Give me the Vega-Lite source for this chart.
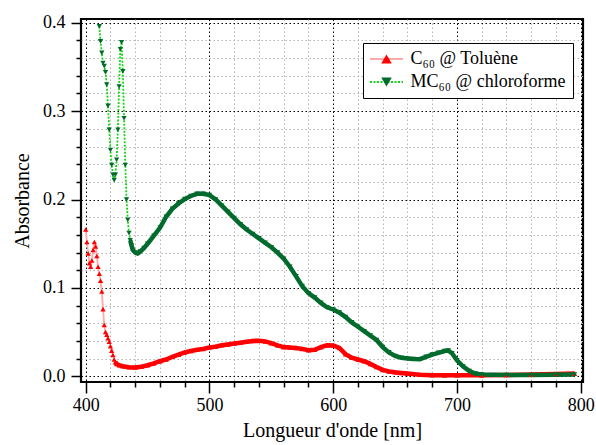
{
  "$schema": "https://vega.github.io/schema/vega-lite/v6.json",
  "width": 502,
  "height": 363,
  "autosize": {"type": "none"},
  "padding": {"left": 81, "top": 19, "right": 13, "bottom": 63},
  "background": "white",
  "config": {
    "view": {"stroke": "black", "strokeWidth": 2.2},
    "font": "Liberation Serif, Times New Roman, Times, serif",
    "axis": {"labelFont": "Liberation Serif, Times New Roman, Times, serif", "titleFont": "Liberation Serif, Times New Roman, Times, serif"},
    "legend": {"labelFont": "Liberation Serif, Times New Roman, Times, serif", "titleFont": "Liberation Serif, Times New Roman, Times, serif"}
  },
  "data": {"values": [
    {"s":"C60","x":400,"y":0.166},{"s":"C60","x":401,"y":0.152},{"s":"C60","x":402,"y":0.139},{"s":"C60","x":403,"y":0.128},
    {"s":"C60","x":404,"y":0.124},{"s":"C60","x":405,"y":0.131},{"s":"C60","x":406,"y":0.143},{"s":"C60","x":407,"y":0.152},
    {"s":"C60","x":408,"y":0.147},{"s":"C60","x":409,"y":0.136},{"s":"C60","x":410,"y":0.124},{"s":"C60","x":411,"y":0.116},
    {"s":"C60","x":412,"y":0.108},{"s":"C60","x":413,"y":0.096},{"s":"C60","x":414,"y":0.076},{"s":"C60","x":415,"y":0.058},
    {"s":"C60","x":416,"y":0.050},{"s":"C60","x":417,"y":0.047},{"s":"C60","x":418,"y":0.043},{"s":"C60","x":419,"y":0.039},
    {"s":"C60","x":420,"y":0.034},{"s":"C60","x":421,"y":0.029},{"s":"C60","x":422,"y":0.024},{"s":"C60","x":423,"y":0.019},
    {"s":"C60","x":424,"y":0.016},{"s":"C60","x":425,"y":0.014},{"s":"C60","x":427,"y":0.0125},{"s":"C60","x":430,"y":0.0113},
    {"s":"C60","x":435,"y":0.0103},{"s":"C60","x":440,"y":0.0100},{"s":"C60","x":445,"y":0.0108},{"s":"C60","x":450,"y":0.0125},
    {"s":"C60","x":455,"y":0.0145},{"s":"C60","x":460,"y":0.017},{"s":"C60","x":465,"y":0.019},{"s":"C60","x":470,"y":0.022},
    {"s":"C60","x":475,"y":0.0245},{"s":"C60","x":480,"y":0.027},{"s":"C60","x":485,"y":0.0285},{"s":"C60","x":490,"y":0.030},
    {"s":"C60","x":495,"y":0.031},{"s":"C60","x":500,"y":0.0325},{"s":"C60","x":505,"y":0.0335},{"s":"C60","x":510,"y":0.035},
    {"s":"C60","x":515,"y":0.036},{"s":"C60","x":520,"y":0.037},{"s":"C60","x":525,"y":0.038},{"s":"C60","x":530,"y":0.039},
    {"s":"C60","x":535,"y":0.040},{"s":"C60","x":540,"y":0.0402},{"s":"C60","x":545,"y":0.0395},{"s":"C60","x":550,"y":0.0375},
    {"s":"C60","x":555,"y":0.035},{"s":"C60","x":560,"y":0.033},{"s":"C60","x":565,"y":0.0325},{"s":"C60","x":570,"y":0.032},
    {"s":"C60","x":575,"y":0.031},{"s":"C60","x":580,"y":0.0295},{"s":"C60","x":585,"y":0.030},{"s":"C60","x":590,"y":0.033},
    {"s":"C60","x":595,"y":0.035},{"s":"C60","x":600,"y":0.0348},{"s":"C60","x":605,"y":0.032},{"s":"C60","x":610,"y":0.025},
    {"s":"C60","x":615,"y":0.021},{"s":"C60","x":620,"y":0.019},{"s":"C60","x":625,"y":0.017},{"s":"C60","x":630,"y":0.014},
    {"s":"C60","x":635,"y":0.0105},{"s":"C60","x":640,"y":0.0072},{"s":"C60","x":645,"y":0.0055},{"s":"C60","x":650,"y":0.0045},
    {"s":"C60","x":655,"y":0.0037},{"s":"C60","x":660,"y":0.003},{"s":"C60","x":670,"y":0.0018},{"s":"C60","x":680,"y":0.0012},
    {"s":"C60","x":690,"y":0.001},{"s":"C60","x":700,"y":0.001},{"s":"C60","x":720,"y":0.001},{"s":"C60","x":740,"y":0.0015},
    {"s":"C60","x":760,"y":0.002},{"s":"C60","x":780,"y":0.0025},{"s":"C60","x":795,"y":0.003},
    {"s":"MC60","x":411,"y":0.396},{"s":"MC60","x":412,"y":0.379},{"s":"MC60","x":413,"y":0.366},{"s":"MC60","x":414,"y":0.3545},
    {"s":"MC60","x":415,"y":0.351},{"s":"MC60","x":416,"y":0.344},{"s":"MC60","x":417,"y":0.330},{"s":"MC60","x":418,"y":0.306},
    {"s":"MC60","x":419,"y":0.279},{"s":"MC60","x":420,"y":0.256},{"s":"MC60","x":421,"y":0.239},{"s":"MC60","x":422,"y":0.228},
    {"s":"MC60","x":423,"y":0.222},{"s":"MC60","x":424,"y":0.228},{"s":"MC60","x":425,"y":0.245},{"s":"MC60","x":426,"y":0.279},
    {"s":"MC60","x":427,"y":0.328},{"s":"MC60","x":428,"y":0.370},{"s":"MC60","x":429,"y":0.378},{"s":"MC60","x":430,"y":0.345},
    {"s":"MC60","x":431,"y":0.292},{"s":"MC60","x":432,"y":0.239},{"s":"MC60","x":433,"y":0.200},{"s":"MC60","x":434,"y":0.177},
    {"s":"MC60","x":435,"y":0.162},{"s":"MC60","x":436,"y":0.154},{"s":"MC60","x":437,"y":0.148},{"s":"MC60","x":438,"y":0.143},
    {"s":"MC60","x":440,"y":0.140},{"s":"MC60","x":442,"y":0.139},{"s":"MC60","x":444,"y":0.141},{"s":"MC60","x":447,"y":0.145},
    {"s":"MC60","x":450,"y":0.150},{"s":"MC60","x":455,"y":0.159},{"s":"MC60","x":460,"y":0.168},{"s":"MC60","x":465,"y":0.1805},
    {"s":"MC60","x":470,"y":0.1895},{"s":"MC60","x":475,"y":0.1955},{"s":"MC60","x":480,"y":0.2005},{"s":"MC60","x":485,"y":0.204},
    {"s":"MC60","x":490,"y":0.2065},{"s":"MC60","x":495,"y":0.2065},{"s":"MC60","x":500,"y":0.205},{"s":"MC60","x":505,"y":0.200},
    {"s":"MC60","x":510,"y":0.193},{"s":"MC60","x":515,"y":0.186},{"s":"MC60","x":520,"y":0.179},{"s":"MC60","x":525,"y":0.172},
    {"s":"MC60","x":530,"y":0.166},{"s":"MC60","x":535,"y":0.161},{"s":"MC60","x":540,"y":0.156},{"s":"MC60","x":545,"y":0.151},
    {"s":"MC60","x":550,"y":0.146},{"s":"MC60","x":555,"y":0.140},{"s":"MC60","x":560,"y":0.133},{"s":"MC60","x":565,"y":0.124},
    {"s":"MC60","x":570,"y":0.113},{"s":"MC60","x":575,"y":0.102},{"s":"MC60","x":580,"y":0.094},{"s":"MC60","x":585,"y":0.089},
    {"s":"MC60","x":590,"y":0.083},{"s":"MC60","x":595,"y":0.078},{"s":"MC60","x":600,"y":0.0756},{"s":"MC60","x":605,"y":0.072},
    {"s":"MC60","x":610,"y":0.067},{"s":"MC60","x":615,"y":0.061},{"s":"MC60","x":620,"y":0.056},{"s":"MC60","x":625,"y":0.051},
    {"s":"MC60","x":630,"y":0.046},{"s":"MC60","x":635,"y":0.041},{"s":"MC60","x":640,"y":0.033},{"s":"MC60","x":645,"y":0.027},
    {"s":"MC60","x":650,"y":0.023},{"s":"MC60","x":655,"y":0.021},{"s":"MC60","x":660,"y":0.020},{"s":"MC60","x":665,"y":0.0195},
    {"s":"MC60","x":670,"y":0.0193},{"s":"MC60","x":675,"y":0.022},{"s":"MC60","x":680,"y":0.0245},{"s":"MC60","x":685,"y":0.0265},
    {"s":"MC60","x":690,"y":0.0285},{"s":"MC60","x":693,"y":0.029},{"s":"MC60","x":696,"y":0.026},{"s":"MC60","x":700,"y":0.018},
    {"s":"MC60","x":705,"y":0.011},{"s":"MC60","x":710,"y":0.006},{"s":"MC60","x":715,"y":0.003},{"s":"MC60","x":720,"y":0.002},
    {"s":"MC60","x":740,"y":0.0015},{"s":"MC60","x":760,"y":0.0015},{"s":"MC60","x":780,"y":0.0018},{"s":"MC60","x":795,"y":0.002}
  ]},
  "encoding": {
    "x": {
      "field": "x", "type": "quantitative", "title": "Longueur d'onde [nm]",
      "scale": {"domain": [396.2, 801.85], "nice": false, "zero": false},
      "axis": {
        "values": [400,420,440,460,480,500,520,540,560,580,600,620,640,660,680,700,720,740,760,780,800],
        "format": "d",
        "labelExpr": "datum.value % 100 === 0 ? datum.label : ''",
        "labelFontSize": 18, "labelColor": "black", "labelPadding": 3, "labelOverlap": false, "labelFlush": false,
        "tickSize": {"condition": {"test": "datum.value % 100 === 0", "value": 11}, "value": 5},
        "tickColor": "black", "tickWidth": 1.5,
        "domain": false,
        "grid": true,
        "gridColor": {"condition": {"test": "datum.value % 100 === 0", "value": "black"}, "value": "#b4b4b4"},
        "gridDash": [1.5, 2.5], "gridWidth": 1,
        "titleFontSize": 20, "titleFontWeight": "normal", "titleColor": "black", "titlePadding": 6
      }
    },
    "y": {
      "field": "y", "type": "quantitative", "title": "Absorbance",
      "scale": {"domain": [-0.0065, 0.4043], "nice": false, "zero": false},
      "axis": {
        "values": [0,0.02,0.04,0.06,0.08,0.1,0.12,0.14,0.16,0.18,0.2,0.22,0.24,0.26,0.28,0.3,0.32,0.34,0.36,0.38,0.4],
        "format": ".1f",
        "labelExpr": "abs(datum.value*10 - round(datum.value*10)) < 1e-6 ? datum.label : ''",
        "labelFontSize": 18, "labelColor": "black", "labelPadding": 6, "labelOverlap": false, "labelFlush": false,
        "tickSize": {"condition": {"test": "abs(datum.value*10 - round(datum.value*10)) < 1e-6", "value": 10}, "value": 5},
        "tickColor": "black", "tickWidth": 1.5,
        "domain": false,
        "grid": true,
        "gridColor": {"condition": {"test": "abs(datum.value*10 - round(datum.value*10)) < 1e-6", "value": "black"}, "value": "#b4b4b4"},
        "gridDash": [1.5, 2.5], "gridWidth": 1,
        "titleFontSize": 20, "titleFontWeight": "normal", "titleColor": "black", "titlePadding": 10
      }
    }
  },
  "layer": [
    {
      "mark": {"type": "line", "strokeWidth": 1.8},
      "encoding": {
        "color": {
          "field": "s", "type": "nominal",
          "scale": {"domain": ["C60", "MC60"], "range": ["#ffaaaa", "#11d611"]},
          "legend": {"orient": "none", "legendX": 282, "legendY": 24, "title": null, "padding": 7,
            "strokeColor": "black", "fillColor": "white",
            "symbolType": "M-3,0H3", "symbolSize": 121, "symbolStrokeWidth": 2, "symbolOffset": 7.5,
            "labelOffset": 15, "labelFontSize": 18, "labelColor": "black",
            "rowPadding": 5, "labelLimit": 300,
            "labelExpr": "datum.label == 'C60' ? 'C₆₀ @ Toluène' : 'MC₆₀ @ chloroforme'"}
        },
        "strokeDash": {
          "field": "s", "type": "nominal",
          "scale": {"domain": ["C60", "MC60"], "range": [[1, 0], [2, 1.5]]},
          "legend": {"orient": "none", "legendX": 282, "legendY": 24, "title": null, "padding": 7,
            "strokeColor": "black", "fillColor": "white",
            "symbolType": "M-3,0H3", "symbolSize": 121, "symbolStrokeWidth": 2, "symbolOffset": 7.5,
            "labelOffset": 15, "labelFontSize": 18, "labelColor": "black",
            "rowPadding": 5, "labelLimit": 300,
            "labelExpr": "datum.label == 'C60' ? 'C₆₀ @ Toluène' : 'MC₆₀ @ chloroforme'"}
        }
      }
    },
    {
      "transform": [{"filter": "(datum.s == 'C60' && datum.x >= 424) || (datum.s == 'MC60' && datum.x >= 436)"}],
      "mark": {"type": "line", "strokeWidth": 4.5},
      "encoding": {
        "stroke": {"field": "s", "type": "nominal", "scale": {"range": ["#ff0000", "#006b2d"]}, "legend": null}
      }
    },
    {
      "mark": {"type": "point", "filled": true, "size": 28, "opacity": 1},
      "encoding": {
        "fill": {
          "field": "s", "type": "nominal", "scale": {"range": ["#ff0000", "#006b2d"]},
          "legend": {"orient": "none", "legendX": 282, "legendY": 24, "title": null, "padding": 7,
            "symbolSize": 110, "symbolOffset": 7.5, "symbolStrokeWidth": 0,
            "labelOffset": 15, "labelFontSize": 18, "labelExpr": "''", "rowPadding": 5}
        },
        "shape": {
          "field": "s", "type": "nominal", "scale": {"range": ["triangle-up", "triangle-down"]},
          "legend": {"orient": "none", "legendX": 282, "legendY": 24, "title": null, "padding": 7,
            "symbolSize": 110, "symbolOffset": 7.5, "symbolStrokeWidth": 0,
            "labelOffset": 15, "labelFontSize": 18, "labelExpr": "''", "rowPadding": 5}
        }
      }
    }
  ]
}
